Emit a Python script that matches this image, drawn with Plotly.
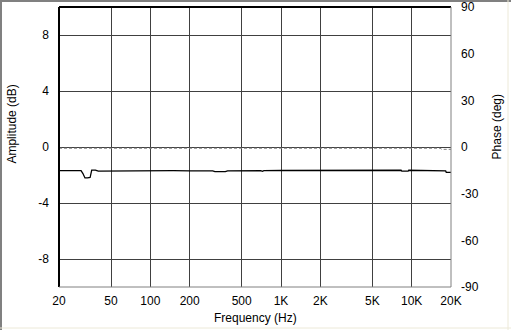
import plotly.graph_objects as go

# Amplitude response (dB)
amp_freq = [20, 25, 29.5, 30.5, 31.6, 33, 34.6, 35.6, 38, 40, 60, 100, 150, 200, 300, 312, 375, 390, 500, 700, 720, 740, 1000, 2000, 5000, 8300, 8400, 9400, 9500, 11400, 11600, 15000, 18200, 18400, 20000]
amp_db   = [-1.69, -1.69, -1.69, -1.9, -2.21, -2.2, -2.18, -1.65, -1.65, -1.72, -1.70, -1.69, -1.69, -1.70, -1.70, -1.76, -1.76, -1.70, -1.69, -1.69, -1.74, -1.69, -1.68, -1.67, -1.66, -1.66, -1.73, -1.73, -1.66, -1.66, -1.71, -1.71, -1.71, -1.81, -1.81]

# Phase response (deg)
ph_freq = [20, 100, 1000, 5000, 10000, 16500, 17000, 20000]
ph_deg  = [-0.8, -0.8, -0.8, -0.8, -0.8, -0.8, -1.5, -1.5]

x_ticks = [20, 50, 100, 200, 500, 1000, 2000, 5000, 10000, 20000]
x_text  = ["20", "50", "100", "200", "500", "1K", "2K", "5K", "10K", "20K"]
amp_ticks = [-8, -4, 0, 4, 8]
amp_text  = ["-8", "-4", "0", "4", "8"]
ph_ticks = [-90, -60, -30, 0, 30, 60, 90]
ph_text  = ["-90", "-60", "-30", "0", "30", "60", "90"]

FONT = "Liberation Sans, Arial, sans-serif"
GRID = "#404040"

fig = go.Figure()
fig.add_trace(go.Scatter(x=ph_freq, y=ph_deg, yaxis="y2", mode="lines",
                         line=dict(color="#808080", width=1, dash="3px,2px"),
                         hoverinfo="skip", showlegend=False))
fig.add_trace(go.Scatter(x=amp_freq, y=amp_db, mode="lines",
                         line=dict(color="#000000", width=1.3, shape="linear"),
                         hoverinfo="skip", showlegend=False))

fig.update_layout(
    width=511, height=330,
    margin=dict(l=59, r=60, t=7, b=43, pad=0, autoexpand=False),
    paper_bgcolor="#FFFFFF", plot_bgcolor="#FFFFFF",
    font=dict(family=FONT, size=12, color="#000000"),
    showlegend=False,
    xaxis=dict(type="log", range=[1.30103, 4.30103], tickvals=x_ticks, ticktext=x_text,
               showgrid=True, gridcolor=GRID, gridwidth=1, zeroline=False,
               showline=False, ticks="", ticklabelstandoff=5, fixedrange=True,
               automargin=False),
    yaxis=dict(range=[-10, 10], tickvals=amp_ticks, ticktext=amp_text, showgrid=True,
               gridcolor=GRID, gridwidth=1, zeroline=False, showline=False, ticks="",
               ticklabelstandoff=9, fixedrange=True, automargin=False),
    yaxis2=dict(range=[-90, 90], tickvals=ph_ticks, ticktext=ph_text, overlaying="y",
                side="right", showgrid=False, zeroline=False, showline=False, ticks="",
                ticklabelstandoff=9, fixedrange=True, automargin=False),
)

# Plot frame: black left/top, gray right/bottom
fig.add_shape(type="line", xref="paper", yref="paper", x0=0, x1=0, y0=0, y1=1,
              line=dict(color="#000000", width=2))
fig.add_shape(type="line", xref="paper", yref="paper", x0=0, x1=1, y0=1, y1=1,
              line=dict(color="#000000", width=2))
fig.add_shape(type="line", xref="paper", yref="paper", x0=1, x1=1, y0=0, y1=1,
              line=dict(color="#808080", width=1))
fig.add_shape(type="line", xref="paper", yref="paper", x0=0, x1=1, y0=0, y1=0,
              line=dict(color="#808080", width=1))

# Axis titles
fig.add_annotation(text="Amplitude (dB)", xref="paper", yref="paper", x=0, y=0.58,
                   xanchor="center", yanchor="middle", xshift=-47, textangle=-90,
                   showarrow=False, font=dict(family=FONT, size=12))
fig.add_annotation(text="Phase (deg)", xref="paper", yref="paper", x=1, y=0.57,
                   xanchor="center", yanchor="middle", xshift=46, textangle=-90,
                   showarrow=False, font=dict(family=FONT, size=12))
fig.add_annotation(text="Frequency (Hz)", xref="paper", yref="paper", x=0.5, y=0,
                   xanchor="center", yanchor="middle", yshift=-31,
                   showarrow=False, font=dict(family=FONT, size=12))

# Window border
fig.add_shape(type="line", xref="paper", yref="paper", x0=-58/392, x1=-58/392,
              y0=-43/280, y1=1+7/280, line=dict(color="#808080", width=2))
fig.add_shape(type="line", xref="paper", yref="paper", x0=-59/392, x1=1+60/392,
              y0=1+6/280, y1=1+6/280, line=dict(color="#808080", width=2))
fig.add_shape(type="line", xref="paper", yref="paper", x0=1+57/392, x1=1+57/392,
              y0=-43/280, y1=1+7/280, line=dict(color="#ECE9D8", width=1))
fig.add_shape(type="line", xref="paper", yref="paper", x0=-59/392, x1=1+60/392,
              y0=-41/280, y1=-41/280, line=dict(color="#ECE9D8", width=1))

fig.write_html("out.html", config={"displayModeBar": False},
               post_script="document.body.style.margin='0';document.body.style.padding='0';")
